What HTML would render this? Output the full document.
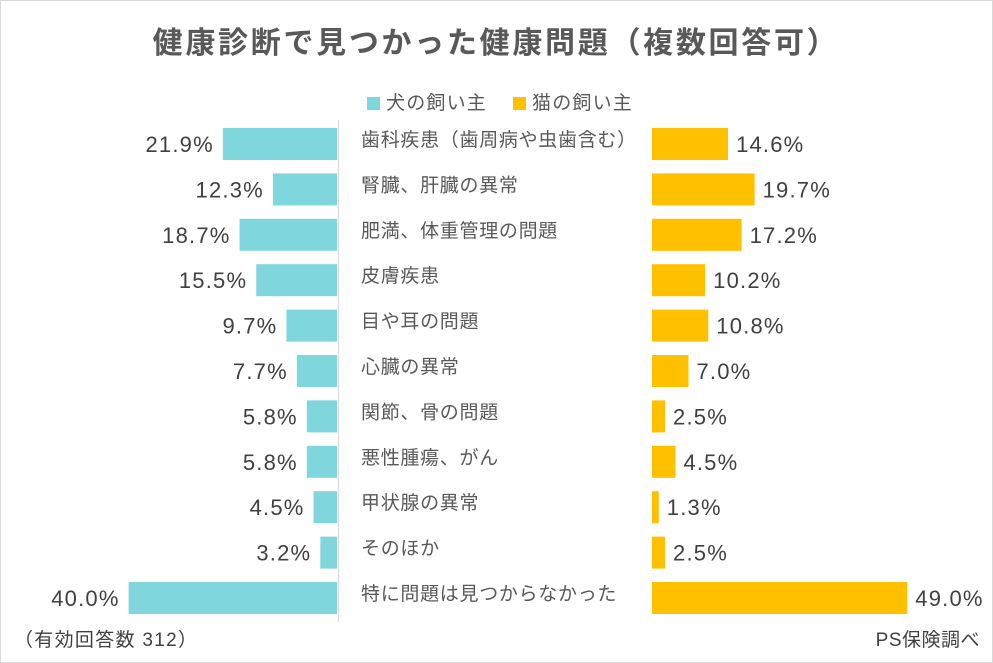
<!DOCTYPE html>
<html><head><meta charset="utf-8"><style>
body{margin:0;background:#fff;}
#c{position:relative;width:993px;height:663px;overflow:hidden;font-family:"Liberation Sans","Noto Sans CJK JP",sans-serif;color:#404040;}
svg text{font-family:"Liberation Sans","Noto Sans CJK JP",sans-serif;}
</style></head><body>
<div id="c">
<svg id="s" width="993" height="663">
<rect x="0.5" y="0.5" width="992" height="662" fill="#fff" stroke="#d9d9d9"/>
<text x="496" y="53" text-anchor="middle" font-size="30" font-weight="bold" letter-spacing="2.7" fill="#595959">健康診断で見つかった健康問題（複数回答可）</text>
<rect x="367" y="97" width="13" height="13" fill="#7fd6dc"/>
<text x="386" y="109" font-size="19" letter-spacing="1.2" fill="#595959">犬の飼い主</text>
<rect x="513" y="97" width="13" height="13" fill="#ffc000"/>
<text x="532" y="109" font-size="19" letter-spacing="1.2" fill="#595959">猫の飼い主</text>
<line x1="338.5" y1="120" x2="338.5" y2="622" stroke="#d9d9d9"/>
<g id="bars"></g>
<text x="14" y="646" font-size="19" letter-spacing="1.3" fill="#404040">（有効回答数 312）</text>
<text x="980" y="646" text-anchor="end" font-size="19" letter-spacing="0.5" fill="#404040">PS保険調べ</text>
</svg>
</div>
<script>
const categories=["歯科疾患（歯周病や虫歯含む）","腎臓、肝臓の異常","肥満、体重管理の問題","皮膚疾患","目や耳の問題","心臓の異常","関節、骨の問題","悪性腫瘍、がん","甲状腺の異常","そのほか","特に問題は見つからなかった"];
const dogValues=[21.9,12.3,18.7,15.5,9.7,7.7,5.8,5.8,4.5,3.2,40.0];
const catValues=[14.6,19.7,17.2,10.2,10.8,7.0,2.5,4.5,1.3,2.5,49.0];
const NS="http://www.w3.org/2000/svg";
const g=document.getElementById('bars');
const scale=v=>v*5.21;
const rowY=i=>144+i*45.4;
function mk(tag,attrs,txt){const e=document.createElementNS(NS,tag);for(const k in attrs)e.setAttribute(k,attrs[k]);if(txt!==undefined)e.textContent=txt;g.appendChild(e);return e;}
categories.forEach((c,i)=>{
  const y=rowY(i);
  const dw=scale(dogValues[i]);
  const d=mk('rect',{x:337-dw,y:y-16,width:dw,height:32,fill:'#7fd6dc'});
  
  
  const dl=mk('text',{x:337-dw-9,y:y+8,'text-anchor':'end','font-size':22,'letter-spacing':1.2,fill:'#404040'},dogValues[i].toFixed(1)+'%');
  
  
  const cw=scale(catValues[i]);
  const r=mk('rect',{x:652,y:y-16,width:cw,height:32,fill:'#ffc000'});
  
  
  const cl=mk('text',{x:652+cw+8,y:y+8,'font-size':22,'letter-spacing':1.2,fill:'#404040'},catValues[i].toFixed(1)+'%');
  
  
  const t=mk('text',{x:361,y:y+2,'font-size':19,'letter-spacing':0.7,fill:'#595959'},c);
  
  
});
</script>
</body></html>
